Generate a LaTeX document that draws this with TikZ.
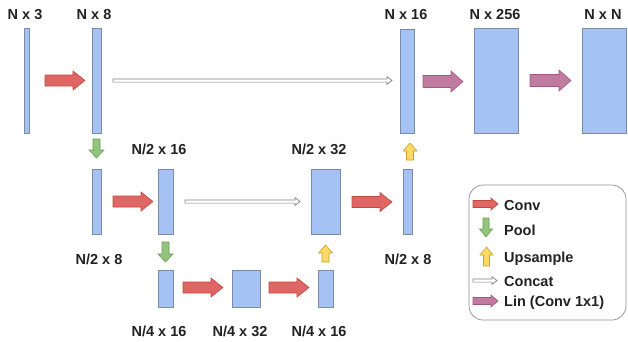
\documentclass[tikz,border=0pt]{standalone}
\usepackage{fontspec}
\setmainfont{Liberation Sans}
\usetikzlibrary{calc,arrows.meta}
\definecolor{boxfill}{HTML}{A4C2F4}
\definecolor{boxline}{HTML}{7A8BA8}
\definecolor{convfill}{HTML}{E06666}
\definecolor{convline}{HTML}{C04A3A}
\definecolor{poolfill}{HTML}{93C47D}
\definecolor{poolline}{HTML}{6A9F55}
\definecolor{upfill}{HTML}{FFD966}
\definecolor{upline}{HTML}{C9A030}
\definecolor{linfill}{HTML}{C27BA0}
\definecolor{linline}{HTML}{A05A80}
\definecolor{catline}{HTML}{808080}
\definecolor{textc}{HTML}{222222}
\tikzset{
  pics/harr/.style args={#1/#2/#3/#4}{code={\draw[pic actions] (0,-#3)--(#1-#4,-#3)--(#1-#4,-#2)--(#1,0)--(#1-#4,#2)--(#1-#4,#3)--(0,#3)--cycle;}},
  pics/darr/.style args={#1/#2/#3/#4}{code={\draw[pic actions] (-#3,0)--(-#3,#1-#4)--(-#2,#1-#4)--(0,#1)--(#2,#1-#4)--(#3,#1-#4)--(#3,0)--cycle;}},
  pics/uarr/.style args={#1/#2/#3/#4}{code={\draw[pic actions] (-#3,0)--(-#3,-#1+#4)--(-#2,-#1+#4)--(0,-#1)--(#2,-#1+#4)--(#3,-#1+#4)--(#3,0)--cycle;}},
  box/.style={draw=boxline, fill=boxfill, line width=0.8pt, inner sep=0pt, outer sep=0pt},
  lbl/.style={anchor=base, text=textc, inner sep=0pt},
  leg/.style={anchor=base west, text=textc, inner sep=0pt},
  conv/.style={fill=convfill, draw=convline, line width=0.6pt, line join=miter},
  pool/.style={fill=poolfill, draw=poolline, line width=0.6pt},
  upsm/.style={fill=upfill, draw=upline, line width=0.6pt},
  lin/.style={fill=linfill, draw=linline, line width=0.6pt},
  concat/.style={fill=white, draw=catline, line width=0.7pt, line join=miter},
}
\begin{document}
\begin{tikzpicture}[x=1pt,y=-1pt,font=\fontsize{14.5}{17}\selectfont\bfseries]
\useasboundingbox (0,0) rectangle (628,341);
% boxes
\node[box, minimum width=5pt,  minimum height=105pt] (a1) at (26.5,80.5) {};
\node[box, minimum width=9pt,  minimum height=105pt] (a2) at (96.5,80.5) {};
\node[box, minimum width=14pt, minimum height=104pt] (a3) at (407,81.5) {};
\node[box, minimum width=44pt, minimum height=105pt] (a4) at (496,80.5) {};
\node[box, minimum width=44pt, minimum height=105pt] (a5) at (604,80.5) {};
\node[box, minimum width=9pt,  minimum height=65pt] (b1) at (96.5,201.5) {};
\node[box, minimum width=15pt, minimum height=65pt] (b2) at (165.5,201.5) {};
\node[box, minimum width=29pt, minimum height=65pt] (b3) at (325.5,201.5) {};
\node[box, minimum width=9pt,  minimum height=65pt] (b4) at (407.5,201.5) {};
\node[box, minimum width=15pt, minimum height=37pt] (c1) at (165.5,288.5) {};
\node[box, minimum width=28pt, minimum height=37pt] (c2) at (246,288.5) {};
\node[box, minimum width=15pt, minimum height=37pt] (c3) at (325.5,288.5) {};
% labels
\node[lbl] (l1) at (25,19) {N x 3};
\node[lbl] (l2) at (94,19) {N x 8};
\node[lbl] (l3) at (406,19) {N x 16};
\node[lbl] (l4) at (495,19) {N x 256};
\node[lbl] (l5) at (603,19) {N x N};
\node[lbl] (l6) at (159,154) {N/2 x 16};
\node[lbl] (l7) at (319,154) {N/2 x 32};
\node[lbl] (l8) at (99,264) {N/2 x 8};
\node[lbl] (l9) at (408,264) {N/2 x 8};
\node[lbl] (l10) at (159,336) {N/4 x 16};
\node[lbl] (l11) at (240,336) {N/4 x 32};
\node[lbl] (l12) at (319,336) {N/4 x 16};
% conv arrows
\pic[conv] at ($(a1.east)+(16,0)$) {harr=40/9.5/5.5/12};
\pic[conv] at ($(b1.east)+(12,0)$) {harr=40/9.5/5.5/12};
\pic[conv] at ($(b3.east)+(12,0.5)$) {harr=40/9.5/5.5/12};
\pic[conv] at ($(c1.east)+(10,-1)$) {harr=40/9.5/5.5/12};
\pic[conv] at ($(c2.east)+(9,-1)$) {harr=40/9.5/5.5/12};
% lin arrows
\pic[lin] at ($(a3.east)+(9,0)$) {harr=40/10.5/6/12};
\pic[lin] at ($(a4.east)+(12,0)$) {harr=41/10.5/6/12};
% pool arrows
\pic[pool] at ($(a2.south)+(0,6)$) {darr=19/7.5/3.5/8};
\pic[pool] at ($(b2.south)+(0,8)$) {darr=20/7.5/3.5/8};
% upsample arrows
\pic[upsm] at ($(b4.north)+(2.5,-9)$) {uarr=17/7/3.5/8};
\pic[upsm] at ($(c3.north)+(0,-8)$) {uarr=17/7/3.5/8};
% concat
\pic[concat] at ($(a2.east)+(12,0)$) {harr=279/3.8/1.6/5};
\pic[concat] at ($(b2.east)+(12,0)$) {harr=115/3.8/1.6/5};
% legend
\draw[draw=catline!90, line width=0.7pt, rounded corners=14pt] (469,185) rectangle (626,320);
\pic[conv] at (473,204) {harr=25/6/3.5/7};
\pic[pool] at (486,218) {darr=19/6.5/3/8};
\pic[upsm] at (486.5,266) {uarr=19/6.5/3/8};
\pic[concat] at (473,280.5) {harr=24/3.8/1.6/5};
\pic[lin] at (473,301) {harr=25/6/3.5/7};
\node[leg] (t1) at (504,210) {Conv};
\node[leg] (t2) at (504,235) {Pool};
\node[leg] (t3) at (504,262) {Upsample};
\node[leg] (t4) at (504,286) {Concat};
\node[leg] (t5) at (504,306) {Lin (Conv 1x1)};
\end{tikzpicture}
\end{document}
